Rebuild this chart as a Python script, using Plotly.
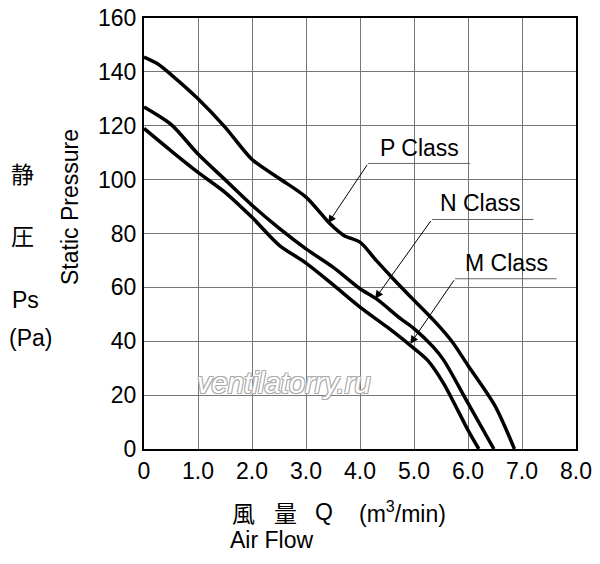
import plotly.graph_objects as go

# P-Q curves (Q in m3/min, Ps in Pa)
P_Q = [0, 0.25, 0.5, 1.0, 1.5, 2.0, 2.5, 3.0, 3.45, 3.7, 4.0, 4.3, 4.6, 5.0, 5.4, 5.7, 6.0, 6.5, 6.86]
P_PS = [145.5, 143, 139, 130, 119.5, 107.5, 100.5, 93.5, 83.5, 79.3, 76.8, 70, 63.5, 55.2, 47, 40, 31, 16, 0]

N_Q = [0, 0.5, 1.0, 1.5, 2.0, 2.5, 3.0, 3.5, 4.0, 4.3, 4.75, 5.0, 5.35, 5.55, 6.0, 6.48]
N_PS = [127, 120.5, 109.5, 100, 90.5, 82, 74.3, 67.5, 59.5, 55.8, 48.4, 44.7, 38, 33, 17, 0]

M_Q = [0, 0.5, 1.0, 1.5, 2.0, 2.5, 3.0, 3.5, 4.0, 4.5, 4.93, 5.25, 5.55, 6.0, 6.2]
M_PS = [119, 110.7, 102.7, 95.3, 86, 75.7, 69, 61, 52.7, 45.3, 38.5, 33, 24.3, 7, 0]

X_TICKS = [0, 1, 2, 3, 4, 5, 6, 7, 8]
X_LABELS = ["0", "1.0", "2.0", "3.0", "4.0", "5.0", "6.0", "7.0", "8.0"]
Y_TICKS = [0, 20, 40, 60, 80, 100, 120, 140, 160]

# label text, text anchor, underline start/end, arrow tip
CALLOUTS = [
    ("P Class", (5.11, 111.8), (4.15, 6.04, 106.0), (3.41, 83.8)),
    ("N Class", (6.24, 91.2), (5.33, 7.21, 85.2), (4.28, 55.8)),
    ("M Class", (6.72, 69.0), (5.76, 7.64, 63.2), (4.93, 39.0)),
]

FONT = "Liberation Sans, Arial, Noto Sans CJK JP"
CJK = "Noto Sans CJK JP, Liberation Sans"

# page body has an 8px margin, so the plot box is shifted back by it
OFF = 8
PX0, PX1, PY0, PY1 = 144, 576, 18, 449


def px(x):
    return (x - PX0) / (PX1 - PX0)


def py(y):
    return (PY1 - y) / (PY1 - PY0)


fig = go.Figure()
for q, ps in [(P_Q, P_PS), (N_Q, N_PS), (M_Q, M_PS)]:
    fig.add_trace(go.Scatter(
        x=q, y=ps, mode="lines",
        line=dict(color="black", width=3.5, shape="spline", smoothing=0.8),
        hoverinfo="skip", showlegend=False,
    ))

for text, (tx, ty), (ux0, ux1, uy), (hx, hy) in CALLOUTS:
    fig.add_shape(type="line", x0=ux0, x1=ux1, y0=uy, y1=uy,
                  line=dict(color="#666", width=1))
    fig.add_annotation(x=tx, y=ty, text=text, showarrow=False,
                       font=dict(size=23, color="black", family=FONT))
    fig.add_annotation(x=hx, y=hy, ax=ux0, ay=uy, axref="x", ayref="y",
                       text="", showarrow=True, arrowhead=2, arrowsize=1.6,
                       arrowwidth=1, arrowcolor="black")

# watermark
fig.add_annotation(x=2.6, y=24.5, text="ventilatorry.ru", showarrow=False,
                   font=dict(size=29, color="white", family=FONT, style="italic",
                             shadow="1px 1px 0 #aaa, -1px -1px 0 #aaa, 1px -1px 0 #aaa, -1px 1px 0 #aaa"))

# axis titles and unit labels (positions in reference pixels)
fig.add_annotation(xref="paper", yref="paper", x=px(70), y=py(207), text="Static Pressure",
                   xanchor="center", yanchor="middle",
                   textangle=-90, showarrow=False, font=dict(size=23, family=FONT))
for txt, x, y, fam in [("静", 23, 173, CJK), ("圧", 23, 235, CJK),
                       ("Ps", 25, 300, FONT), ("(Pa)", 30, 338, FONT)]:
    fig.add_annotation(xref="paper", yref="paper", x=px(x), y=py(y),
                       xanchor="center", yanchor="middle",
                       text=txt, showarrow=False, font=dict(size=23, family=fam))
for txt, x, fam in [("風", 230, CJK), ("量", 272, CJK), ("Q", 313, FONT),
                    ("(m<sup>3</sup>/min)", 357, FONT)]:
    fig.add_annotation(xref="paper", yref="paper", x=px(x), y=py(512),
                       xanchor="left", yanchor="middle",
                       text=txt, showarrow=False, font=dict(size=23, family=fam))
fig.add_annotation(xref="paper", yref="paper", x=px(228), y=py(540),
                   xanchor="left", yanchor="middle",
                   text="Air Flow", showarrow=False, font=dict(size=23, family=FONT))

fig.update_xaxes(range=[0, 8], tickvals=X_TICKS, ticktext=X_LABELS, automargin=False,
                 showgrid=True, gridcolor="#777", gridwidth=1,
                 showline=True, linecolor="black", linewidth=2, mirror=True,
                 zeroline=False, ticks="", ticklabeloverflow="allow",
                 tickfont=dict(size=23, family=FONT, color="black"))
fig.update_yaxes(range=[0, 160], tickvals=Y_TICKS, automargin=False,
                 showgrid=True, gridcolor="#777", gridwidth=1,
                 showline=True, linecolor="black", linewidth=2, mirror=True,
                 zeroline=False, ticks="", ticklabelstandoff=1, ticklabeloverflow="allow",
                 tickfont=dict(size=23, family=FONT, color="black"))
fig.update_layout(width=600, height=564,
                  margin=dict(l=PX0 - OFF, r=600 - PX1 + OFF, t=PY0 - OFF, b=564 - PY1 + OFF),
                  plot_bgcolor="white", paper_bgcolor="white",
                  font=dict(family=FONT, color="black"))

fig.write_html("out.html")
